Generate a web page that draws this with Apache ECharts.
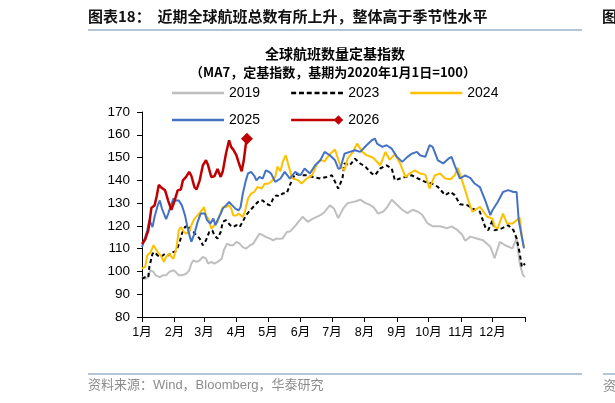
<!DOCTYPE html>
<html>
<head>
<meta charset="utf-8">
<script src="https://cdn.jsdelivr.net/npm/echarts@6/dist/echarts.min.js"></script>
<style>
  html, body { margin: 0; padding: 0; background: #fff; }
  #chart { width: 615px; height: 403px; }
</style>
</head>
<body>
<div id="chart"></div>
<script>
// 月份刻度（一年中的第几天）
var monthStarts = [0, 31, 59, 90, 120, 151, 181, 212, 243, 273, 304, 334, 365];
var monthLabels = ["1月", "2月", "3月", "4月", "5月", "6月", "7月", "8月", "9月", "10月", "11月", "12月"];

// 2019
var d2019 = [0,3,6,8,11,13,17,20,23,26,30,32,35,38,42,45,47,49,52,55,58,61,63,66,69,72,76,78,81,84,87,90,93,96,99,103,106,109,112,115,118,122,125,128,131,134,138,141,146,153,158,163,170,174,179,183,187,192,196,203,208,213,217,221,225,230,234,238,243,248,253,258,263,267,272,277,284,291,295,300,305,308,313,319,325,332,336,341,346,353,357,360,363,365];
var v2019 = [97.5,96.8,97.5,100.5,99.8,98.3,97.5,98.3,98.3,99.8,100.5,99.8,98.3,98.3,99,100.5,103.4,104.9,104.2,104.9,106.4,105.6,103.4,104.2,103.4,104.2,105.6,109.3,112.2,111.5,111.5,113,112.2,110.7,110,111.5,112.2,114.4,116.6,115.9,115.2,114.4,113.7,114.4,114.4,114.5,117.3,117.5,120,124,121.8,123.2,124.7,126.1,129,127.6,123.4,127.8,130,130.7,131.5,130,129.3,128,125.4,126.3,128.5,131.5,129.3,127.1,125.6,127.1,126.2,124.9,121.2,119.8,119.8,119,119.8,118.4,116.2,113.5,115.3,114.5,113.7,110.8,105.8,113,111.5,110.1,114.5,103.5,98.4,97.6];

// 2023
var d2023 = [0,3,6,7,10,12,15,18,22,25,28,31,33,36,38,41,44,46,49,52,55,58,61,64,67,69,72,75,77,80,84,87,90,93,96,99,103,106,109,112,115,118,122,125,128,131,134,138,141,146,151,157,163,170,176,181,184,187,191,193,198,203,208,213,219,222,227,233,238,241,246,251,257,263,270,276,282,289,294,298,303,310,315,322,327,330,334,336,343,349,354,357,360,362,365];
var v2023 = [96.8,97.5,97.5,102,107.8,108.5,107,106.4,107.8,107,108.5,108.5,109.3,113,116.6,119.5,120.3,118,117.3,115.9,114.4,111.5,113.7,117.3,118,115.9,114.4,117.3,121.8,122.5,120.3,119.5,120.3,119.5,121.8,124.6,126.8,128.3,129.8,131.2,131.2,129.8,129,132,133.4,133,134.2,134.5,138,143,142.2,142.2,141.5,140.8,141.5,142.2,139.3,136.4,140.8,147.4,146.6,149.5,147.4,145.9,143,142.2,145.2,146.6,145.2,140,140.8,141.5,142.2,140.8,139.3,138.6,137.1,133.5,135,133.5,129.5,129.1,127.6,126.2,119.6,118.1,122.5,118.1,118.9,120.3,118.1,114.5,107.9,102,103.5];

// 2024
var d2024 = [0,3,5,8,11,13,16,18,21,23,26,28,30,33,35,37,40,42,45,47,50,53,57,59,61,64,66,69,72,74,77,80,83,85,87,90,92,96,98,101,104,107,110,114,117,120,123,127,129,132,134,137,140,143,149,152,157,162,167,170,174,179,184,189,193,196,201,205,210,214,220,227,232,236,241,246,251,255,260,265,270,274,279,284,289,294,298,301,305,308,311,315,322,329,334,336,339,344,348,353,357,360,362,364];
var v2024 = [101.2,102,107,108.3,111.5,110,107.8,107,104.2,106.4,107.8,106.4,105.6,110.7,118,119.5,117.3,116.6,117.3,120.3,123.2,124.6,126.8,128.3,124.6,122.5,118.8,120.3,121.8,124.6,128.3,128.3,129,127.6,124.6,124.6,125.4,123.9,126.1,132,134.2,134.9,137.1,136.4,138.5,138.5,139.3,141.5,146,144,148,151,146,141,140,138.6,140.8,142.2,147.4,149,148.3,151.5,153.5,146.3,144.4,149.5,152.5,156.1,152.5,151,150,146.6,152.5,149,151.5,147.4,141.5,143,144.4,143,142.5,136.4,142.2,143,140.8,140.5,142.2,145.5,140,135.7,131,126.2,128.4,124,123.2,119.6,118.9,125.4,121,121,122.5,123.5,115.2,110.8];

// 2025
var d2025 = [0,3,5,7,10,12,15,17,19,23,25,27,30,32,35,38,41,44,47,50,53,56,60,62,65,68,70,72,75,77,80,83,86,89,92,94,96,99,101,104,107,109,112,115,118,121,123,127,132,136,141,146,151,155,160,165,170,174,179,184,187,189,193,198,203,208,214,219,222,224,229,233,238,243,248,253,257,262,265,270,274,277,282,287,292,295,298,303,308,313,317,322,327,332,334,339,344,349,354,357,359,362,364];
var v2025 = [110.7,115,118,122.5,119.5,124,129,131.2,127.6,123,125.4,128.3,132,131.2,131.2,129,124.6,118,113,116.6,121.8,125.4,125.4,122.5,121,123.2,120.3,122.5,125.4,127.6,129,130.5,129,127.6,126.8,128.3,134,140,143,143.7,142,140,141.5,140.7,144.4,143.7,143,139.3,140.8,143.7,140.8,143.7,142.2,145.2,143,146.6,148.8,152.5,151,148.8,145.2,145.2,151.7,152.5,153.2,152.5,155.4,157.6,158.3,156.1,154.7,155.4,153.9,150.3,148.1,150.3,151.7,152.5,151,150.3,155.4,154.7,148.8,147.4,149.5,150.3,146.6,140.8,142.2,141,138.6,137,131.3,124.7,126.9,130.5,134.9,135.7,134.9,134.9,122.5,115.2,110.1];

// 2026
var d2026 = [0,3,6,9,12,14,16,18,22,25,28,31,34,37,39,42,45,47,50,52,55,58,61,63,66,69,72,75,77,80,83,85,87,90,92,95,97,99,100];
var v2026 = [112,114,118,128,129,133,138,137,135.6,131,127,131,135.6,136,140,141.5,143.7,142,137,136,140,146.6,148.8,146.6,141.5,141.8,145,141.5,144,151.7,157.6,154.6,153.5,151,148,144,148.8,156,158.3];

function pairs(d, v) {
  return d.map(function(x, i) { return [x, v[i]]; });
}

var font = "'Liberation Sans', Arial, 'Noto Sans CJK SC', sans-serif";
var cjk = "'Noto Sans CJK SC', 'Liberation Sans', sans-serif";

// 图例图标：框 0..52 x 0..10，角上放两个空点撑开范围
var box = "M0,0L0,0M52,10L52,10";
var solidIcon = "path://" + box + "M0,3.7L52,3.7L52,6.3L0,6.3Z";
var dashIcon = "path://" + box;
for (var k = 0; k < 7; k++) {
  var x0 = k * 7.8;
  dashIcon += "M" + x0 + ",3.7L" + (x0 + 5) + ",3.7L" + (x0 + 5) + ",6.3L" + x0 + ",6.3Z";
}
var diamondIcon = "path://M0,0L0,0M55,10L55,10M0,3.6L50,3.6L50,6.4L0,6.4Z M45,5L50,0L55,5L50,10Z";

var myChart = echarts.init(document.getElementById("chart"));

var lastIdx = d2026.length - 1;

var legendText = { fontSize: 14, color: "#000", fontFamily: font };

myChart.setOption({
  animation: false,
  backgroundColor: "#fff",
  grid: { left: 142, right: 90, top: 112, bottom: 86 },
  legend: [
    {
      data: [
        { name: "2019", icon: solidIcon },
        { name: "2023", icon: dashIcon },
        { name: "2024", icon: solidIcon }
      ],
      left: 167, top: 81,
      itemWidth: 52, itemHeight: 10, itemGap: 31,
      textStyle: legendText
    },
    {
      data: [
        { name: "2025", icon: solidIcon },
        { name: "2026", icon: diamondIcon }
      ],
      left: 167, top: 108,
      itemWidth: 52, itemHeight: 10, itemGap: 31,
      textStyle: legendText
    }
  ],
  xAxis: {
    type: "value",
    min: 0,
    max: 365,
    splitLine: { show: false },
    axisLine: { show: true, lineStyle: { color: "#000", width: 1 } },
    axisTick: { show: true, length: 5, customValues: monthStarts, lineStyle: { color: "#000" } },
    axisLabel: {
      customValues: monthStarts.slice(0, 12),
      formatter: function(v) {
        return monthLabels[monthStarts.indexOf(v)];
      },
      fontSize: 12.5, color: "#000", margin: 9, fontFamily: font
    }
  },
  yAxis: {
    type: "value",
    min: 80,
    max: 170,
    interval: 10,
    splitLine: { show: false },
    axisLine: { show: true, lineStyle: { color: "#000", width: 1 } },
    axisTick: { show: true, length: 5, lineStyle: { color: "#000" } },
    axisLabel: { fontSize: 13.5, color: "#000", margin: 12, fontFamily: font }
  },
  series: [
    {
      name: "2019", type: "line", symbol: "none",
      lineStyle: { color: "#BFBFBF", width: 2 }, itemStyle: { color: "#BFBFBF" },
      data: pairs(d2019, v2019)
    },
    {
      name: "2023", type: "line", symbol: "none",
      lineStyle: { color: "#000", width: 2, type: [4, 3] }, itemStyle: { color: "#000" },
      data: pairs(d2023, v2023)
    },
    {
      name: "2024", type: "line", symbol: "none",
      lineStyle: { color: "#FFC000", width: 2 }, itemStyle: { color: "#FFC000" },
      data: pairs(d2024, v2024)
    },
    {
      name: "2025", type: "line", symbol: "none",
      lineStyle: { color: "#4472C4", width: 2 }, itemStyle: { color: "#4472C4" },
      data: pairs(d2025, v2025)
    },
    {
      name: "2026", type: "line", symbol: "none",
      lineStyle: { color: "#C00000", width: 2.5 }, itemStyle: { color: "#C00000" },
      data: pairs(d2026, v2026)
    },
    {
      name: "2026末值", type: "scatter", symbol: "diamond", symbolSize: 12,
      itemStyle: { color: "#C00000", opacity: 1 },
      data: [[d2026[lastIdx], v2026[lastIdx]]]
    }
  ],
  graphic: [
    {
      type: "text", left: 88, top: 9,
      style: { text: "图表18：  近期全球航班总数有所上升，整体高于季节性水平", font: "bold 15px " + cjk, fill: "#111" }
    },
    {
      type: "text", left: 602, top: 9,
      style: { text: "图", font: "bold 15px " + cjk, fill: "#111" }
    },
    {
      type: "line", shape: { x1: 88, y1: 30, x2: 582, y2: 30 },
      style: { stroke: "#9DB0C8", lineWidth: 1.5 }
    },
    {
      type: "text", x: 335, y: 54,
      style: { text: "全球航班数量定基指数", font: "bold 14px " + cjk, fill: "#000", align: "center", verticalAlign: "middle" }
    },
    {
      type: "text", x: 333, y: 72,
      style: { text: "（MA7，定基指数，基期为2020年1月1日=100）", font: "bold 13px " + cjk, fill: "#000", align: "center", verticalAlign: "middle" }
    },
    {
      type: "line", shape: { x1: 88, y1: 374, x2: 582, y2: 374 },
      style: { stroke: "#9DB0C8", lineWidth: 1.5 }
    },
    {
      type: "line", shape: { x1: 603, y1: 374, x2: 615, y2: 374 },
      style: { stroke: "#9DB0C8", lineWidth: 1.5 }
    },
    {
      type: "text", left: 88, top: 379,
      style: { text: "资料来源：Wind，Bloomberg，华泰研究", font: "13px " + font, fill: "#8C8C8C" }
    },
    {
      type: "text", left: 603, top: 379,
      style: { text: "资", font: "13px " + cjk, fill: "#8C8C8C" }
    }
  ]
});
</script>
</body>
</html>
